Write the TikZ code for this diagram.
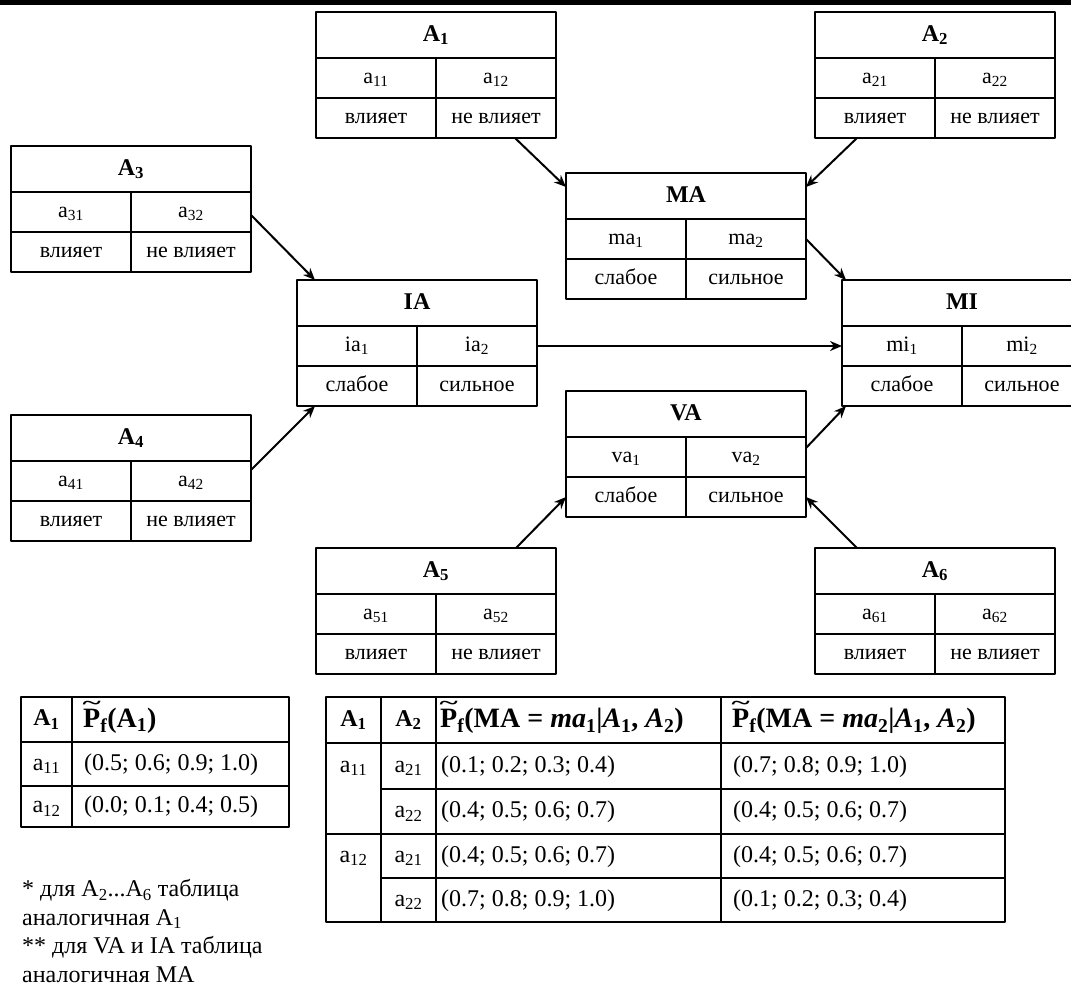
\documentclass[tikz,border=0pt]{standalone}
\usepackage{fontspec}
\usepackage{graphicx}
\setmainfont{Liberation Serif}
\usetikzlibrary{arrows.meta,calc}
\newcommand{\Ptil}{\ooalign{P\cr\hidewidth\raisebox{0.64em}{\scalebox{1.25}[0.7]{\char"007E}}\hidewidth\cr}}

\begin{document}
\begin{tikzpicture}[x=1pt,y=-1pt,line join=round,
	box/.style={draw,line width=1.2pt,inner sep=0pt,outer sep=0pt},
	ttl/.style={box,anchor=north west,minimum width=240pt,minimum height=46pt,text height=16.5pt,text depth=4.5pt,font=\fontsize{24}{28}\selectfont\bfseries},
	cel/.style={box,minimum width=120pt,minimum height=40pt,text height=15pt,text depth=4pt,font=\fontsize{22}{26}\selectfont},
	tc/.style 2 args={box,anchor=north west,minimum width=#1pt,minimum height=#2pt,text height=16.5pt,text depth=4.5pt,font=\fontsize{24}{28}\selectfont},
	txt/.style={anchor=west,inner sep=0pt,text height=16.5pt,text depth=4.5pt,font=\fontsize{24}{28}\selectfont},
	hdr/.style={anchor=west,inner sep=0pt,text height=19pt,text depth=5.5pt,font=\fontsize{28}{32}\selectfont\bfseries},
	arr/.style={-{Stealth[length=12pt,width=10pt]},line width=2pt}]
	\path[use as bounding box,clip] (0,0) rectangle (1071,989);
	\fill (0,0) rectangle (1071,5);
	% factor tables
	\foreach \k/\x/\y in {1/316/12,2/815/12,3/11/146,4/11/415,5/316/548,6/815/548}{
		\node[ttl] (A\k) at (\x,\y) {A\textsubscript{\k}};
		\node[cel,anchor=north west] (A\k-v1) at (A\k.south west) {a\textsubscript{\k1}};
		\node[cel,anchor=north east] (A\k-v2) at (A\k.south east) {a\textsubscript{\k2}};
		\node[cel,anchor=north west] (A\k-s1) at (A\k-v1.south west) {влияет};
		\node[cel,anchor=north east] (A\k-s2) at (A\k-v2.south east) {не влияет};
	}
	\foreach \n/\m/\x/\y in {MA/ma/566/173,IA/ia/297/280,MI/mi/842/280,VA/va/566/391}{
		\node[ttl] (\n) at (\x,\y) {\n};
		\node[cel,anchor=north west] (\n-v1) at (\n.south west) {\m\textsubscript{1}};
		\node[cel,anchor=north east] (\n-v2) at (\n.south east) {\m\textsubscript{2}};
		\node[cel,anchor=north west] (\n-s1) at (\n-v1.south west) {слабое};
		\node[cel,anchor=north east] (\n-s2) at (\n-v2.south east) {сильное};
	}
	% links
	\draw[arr] ($(A1-s2.south)+(19,0)$) -- ($(MA.west)+(0,-9)$);
	\draw[arr] ($(A2-s1.south)+(-18,0)$) -- ($(MA.east)+(0,-9)$);
	\draw[arr] (MA-v2.east) -- ($(MI.north west)+(4,0)$);
	\draw[arr] ($(A3-v2.east)+(0,3)$) -- ($(IA.north west)+(18,0)$);
	\draw[arr] (IA-v2.east) -- (MI-v1.west);
	\draw[arr] ($(A4-v2.east)+(0,-11)$) -- ($(IA-s1.south west)+(18,0)$);
	\draw[arr] ($(VA-v2.east)+(0,-9)$) -- ($(MI-s1.south west)+(4,0)$);
	\draw[arr] ($(A5.north east)+(-40,0)$) -- (VA-s1.west);
	\draw[arr] ($(A6.north west)+(42,0)$) -- (VA-s2.east);
	% table for A1
	\node[tc={51}{45},font=\fontsize{24}{28}\selectfont\bfseries] (p-h1) at (21,697) {A\textsubscript{1}};
	\node[tc={217}{45}] (p-h2) at (72,697) {};
	\node[tc={51}{44}] (p-a1) at (21,742) {a\textsubscript{11}};
	\node[tc={217}{44}] (p-v1) at (72,742) {};
	\node[tc={51}{41}] (p-a2) at (21,786) {a\textsubscript{12}};
	\node[tc={217}{41}] (p-v2) at (72,786) {};
	\node[hdr] (p-h2t) at ($(p-h2.west)+(11,1)$) {\Ptil\textsubscript{f}(A\textsubscript{1})};
	\node[txt] (p-v1t) at ($(p-v1.west)+(12,0)$) {(0.5; 0.6; 0.9; 1.0)};
	\node[txt] (p-v2t) at ($(p-v2.west)+(12,0)$) {(0.0; 0.1; 0.4; 0.5)};
	% table for MA
	\node[tc={55}{46},font=\fontsize{24}{28}\selectfont\bfseries] (q-h1) at (326,697) {A\textsubscript{1}};
	\node[tc={55}{46},font=\fontsize{24}{28}\selectfont\bfseries] (q-h2) at (381,697) {A\textsubscript{2}};
	\node[tc={285}{46}] (q-h3) at (436,697) {};
	\node[tc={284}{46}] (q-h4) at (721,697) {};
	\node[hdr] (q-h3t) at ($(q-h3.west)+(4,1)$) {\Ptil\textsubscript{f}(MA = \textit{ma}\textsubscript{1}|\textit{A}\textsubscript{1}, \textit{A}\textsubscript{2})};
	\node[hdr] (q-h4t) at ($(q-h4.west)+(11,1)$) {\Ptil\textsubscript{f}(MA = \textit{ma}\textsubscript{2}|\textit{A}\textsubscript{1}, \textit{A}\textsubscript{2})};
	\node[tc={55}{91}] (q-a1) at (326,743) {};
	\node[tc={55}{88}] (q-a2) at (326,834) {};
	\node[txt,anchor=center] (q-a1t) at ($(q-a1.north)+(0,23)$) {a\textsubscript{11}};
	\node[txt,anchor=center] (q-a2t) at ($(q-a2.north)+(0,22)$) {a\textsubscript{12}};
	\foreach \r/\y/\h/\s/\u/\w in {1/743/46/1/{(0.1; 0.2; 0.3; 0.4)}/{(0.7; 0.8; 0.9; 1.0)},
		2/789/45/2/{(0.4; 0.5; 0.6; 0.7)}/{(0.4; 0.5; 0.6; 0.7)},
		3/834/44/1/{(0.4; 0.5; 0.6; 0.7)}/{(0.4; 0.5; 0.6; 0.7)},
		4/878/44/2/{(0.7; 0.8; 0.9; 1.0)}/{(0.1; 0.2; 0.3; 0.4)}}{
		\node[tc={55}{\h}] (q\r-b) at (381,\y) {a\textsubscript{2\s}};
		\node[tc={285}{\h}] (q\r-c) at (436,\y) {};
		\node[tc={284}{\h}] (q\r-d) at (721,\y) {};
		\node[txt] (q\r-ct) at ($(q\r-c.west)+(5,0)$) {\u};
		\node[txt] (q\r-dt) at ($(q\r-d.west)+(12,0)$) {\w};
	}
	\node[anchor=base west,align=left,inner sep=0pt,font=\fontsize{24}{28.5}\selectfont] (notes) at (22,982)
		{* для A\textsubscript{2}...A\textsubscript{6} таблица\\аналогичная A\textsubscript{1}\\** для VA и IA таблица\\аналогичная MA};
\end{tikzpicture}
\end{document}
